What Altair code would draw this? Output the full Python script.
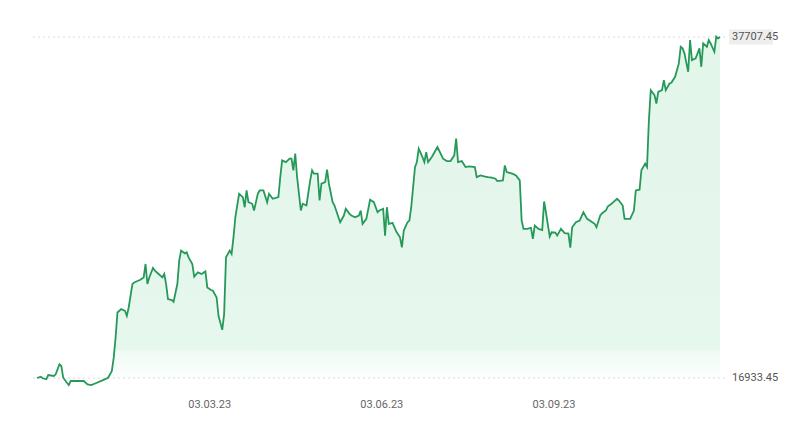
import altair as alt
import pandas as pd

start_date = "2022-12-01"

days = [
    0, 2, 3, 5, 6, 9, 10, 12, 13, 14, 16, 17, 18, 21, 25, 27, 29, 32, 35, 38,
    40, 41, 42, 43, 45, 47, 48, 49, 51, 52, 54, 55, 57, 58, 59, 60, 62, 63, 65, 67,
    68, 69, 70, 72, 73, 75, 76, 77, 79, 80, 81, 83, 84, 86, 88, 90, 91, 93, 94, 96,
    97, 99, 100, 101, 103, 104, 105, 106, 108, 110, 111, 112, 113, 115, 116, 118, 119, 121, 123, 124,
    126, 129, 130, 131, 133, 135, 136, 137, 138, 139, 141, 142, 144, 146, 147, 148, 150, 151, 152, 154,
    155, 156, 158, 159, 162, 164, 165, 167, 168, 170, 172, 173, 174, 176, 178, 180, 182, 183, 185, 186,
    187, 188, 190, 192, 194, 195, 196, 198, 199, 200, 202, 203, 204, 206, 207, 208, 209, 211, 214, 217,
    219, 221, 223, 224, 225, 227, 229, 231, 234, 235, 237, 239, 241, 243, 245, 246, 249, 250, 251, 254,
    256, 258, 259, 260, 262, 264, 265, 266, 268, 270, 271, 272, 274, 275, 277, 278, 280, 282, 284, 285,
    286, 288, 290, 292, 294, 296, 298, 299, 301, 302, 304, 305, 307, 308, 310, 311, 313, 314, 317, 319,
    320, 322, 323, 325, 326, 327, 328, 330, 331, 332, 334, 335, 336, 338, 339, 341, 343, 344, 345, 346,
    348, 349, 350, 352, 354, 355, 356, 358, 359, 360, 362, 363, 364, 365,
]

prices = [
    16933.45, 17012, 16915, 16854, 17116, 17055, 17159, 17770, 17666, 16951, 16646, 16505, 16750, 16750, 16750, 16548, 16505, 16646, 16792, 16951,
    17361, 18173, 19395, 20923, 21131, 21027, 20721, 21228, 22658, 22756, 22860, 22903, 23061, 23880, 22658, 23061, 23636, 23471, 23269, 23061,
    23269, 22658, 21742, 21681, 21577, 22658, 24082, 24693, 24528, 24589, 24283, 23880, 23104, 23367, 23269, 23428, 22450, 22292, 22249, 21840,
    20721, 19866, 20825, 24283, 24693, 24491, 25505, 26727, 28157, 27950, 27338, 28359, 27644, 27546, 27137, 28157, 28359, 28359, 27644, 28157,
    27852, 27950, 29171, 30192, 30088, 30296, 30296, 29581, 30601, 29171, 27137, 27546, 27442, 28970, 29581, 29379, 29379, 27748, 28768, 28866,
    29624, 28768, 27644, 27442, 26422, 26831, 27241, 26935, 26831, 26727, 26831, 27137, 26324, 26629, 27790, 27644, 27033, 27137, 27241, 25609,
    27338, 26324, 26385, 25854, 25505, 24894, 25915, 26422, 26526, 27338, 29782, 30088, 30907, 30394, 30088, 30699, 30088, 30394, 31004, 30296,
    30149, 30149, 30497, 31518, 30088, 30149, 29782, 29825, 29782, 29171, 29275, 29214, 29171, 29135, 29074, 28927, 28970, 29886, 29477, 29379,
    29275, 28970, 26526, 26018, 26018, 26080, 25408, 26220, 26018, 25945, 27687, 27015, 25548, 25811, 25793, 25609, 26018, 25762, 25731, 24876,
    26116, 26422, 26526, 27033, 26630, 26483, 26324, 26116, 26831, 26972, 27137, 27381, 27546, 27644, 27852, 27748, 27442, 26630, 26630, 27137,
    28359, 28402, 29581, 29990, 29782, 32636, 34469, 34163, 33656, 34365, 34469, 35080, 34469, 34878, 34915, 35282, 36100, 37114, 37016, 36711,
    35587, 37524, 36302, 36406, 37016, 35892, 37322, 37114, 37524, 37322, 36809, 37725, 37621, 37707.45,
]

ref_values = [16933.45, 37707.45]
ref_labels = ["16933.45", "37707.45"]

assert len(days) == len(prices)

df = pd.DataFrame({
    "date": (pd.Timestamp(start_date) + pd.to_timedelta(days, unit="D")).strftime("%Y-%m-%d"),
    "price": prices,
})
refs = pd.DataFrame({"v": ref_values, "label": ref_labels})
top_ref = refs.iloc[[1]].reset_index(drop=True)

W, H = 683, 341
y_scale = alt.Scale(domain=ref_values, zero=False, nice=False)

x_axis = alt.Axis(
    values=[alt.DateTime(year=2023, month=3, date=3),
            alt.DateTime(year=2023, month=6, date=3),
            alt.DateTime(year=2023, month=9, date=3)],
    format="%d.%m.%y",
    ticks=False,
    domain=False,
    grid=False,
    labelPadding=20,
    labelFont="Roboto",
    labelFontSize=11,
    labelColor="#666666",
    title=None,
)

gradient = alt.Gradient(
    gradient="linear",
    stops=[
        alt.GradientStop(color="#e3f6ea", offset=0),
        alt.GradientStop(color="#e6f7ed", offset=0.895),
        alt.GradientStop(color="#f1fbf5", offset=0.905),
        alt.GradientStop(color="#fdfffe", offset=1),
    ],
    x1=0, x2=0, y1=0, y2=1,
)

area = alt.Chart(df).mark_area(color=gradient).encode(
    x=alt.X("date:T", axis=x_axis),
    y=alt.Y("price:Q", scale=y_scale, axis=None),
    y2=alt.datum(ref_values[0]),
)

line = alt.Chart(df).mark_line(color="#26995a", strokeWidth=1.8).encode(
    x=alt.X("date:T", axis=x_axis),
    y=alt.Y("price:Q", scale=y_scale, axis=None),
)

rules = alt.Chart(refs).mark_rule(strokeDash=[2, 3], color="#dcdcdc", strokeWidth=1).encode(
    y=alt.Y("v:Q", scale=y_scale, axis=None),
    x=alt.value(-4),
    x2=alt.value(W + 6),
)

# invisible spacer that reserves room above and to the left of the plot
spacer = alt.Chart(top_ref).mark_rule(strokeOpacity=0, strokeWidth=1).encode(
    x=alt.value(-23.5),
    x2=alt.value(0),
    y=alt.value(-23.5),
)

box = alt.Chart(top_ref).mark_rect(color="#eeeeee", yOffset=-7.5, y2Offset=7.5).encode(
    x=alt.value(W + 9),
    x2=alt.value(W + 53),
    y=alt.Y("v:Q", scale=y_scale, axis=None),
    y2="v:Q",
)

labels = alt.Chart(refs).mark_text(
    align="left", baseline="middle", font="Roboto", fontSize=11, color="#555555", dx=12
).encode(
    x=alt.value(W),
    y=alt.Y("v:Q", scale=y_scale, axis=None),
    text="label:N",
)

chart = alt.layer(area, spacer, rules, line, box, labels).properties(
    width=W,
    height=H,
    padding=5,
).configure_view(strokeWidth=0)

chart.save("out.html", embed_options={"renderer": "svg", "actions": False})
